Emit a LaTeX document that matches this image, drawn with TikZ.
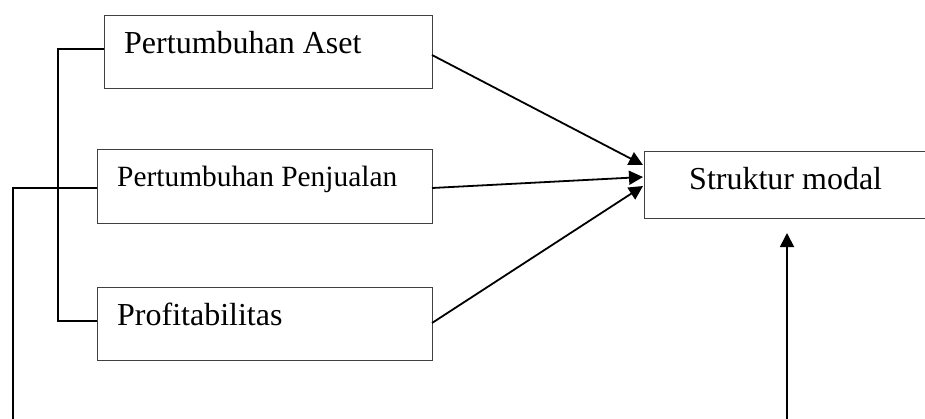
\documentclass[tikz,border=0pt]{standalone}
\usepackage{fontspec}
\setmainfont{Liberation Serif}
\usetikzlibrary{arrows.meta,calc}
\tikzset{
  box/.style={draw=black!75, line width=0.9pt, anchor=north west, inner sep=0pt},
  lbl/.style={anchor=base west, inner sep=0pt, font=\fontsize{32}{38}\selectfont},
  conn/.style={line width=1.8pt, black},
  arr/.style={conn, -{Triangle[length=14pt,width=14pt]}}
}
\begin{document}
\begin{tikzpicture}[x=1pt,y=-1pt]
\useasboundingbox (0,0) rectangle (925,418);
\clip (0,0) rectangle (925,418);
% boxes
\node[box, minimum width=328pt, minimum height=73pt] (A) at (104,15) {};
\node[box, minimum width=335pt, minimum height=74pt] (B) at (97,149) {};
\node[box, minimum width=335pt, minimum height=73pt] (C) at (97,287) {};
\node[box, minimum width=300pt, minimum height=67pt] (D) at (644,151) {};
% labels
\node[lbl] (tA) at (124,53) {Pertumbuhan Aset};
\node[lbl, font=\fontsize{29.4}{35}\selectfont] (tB) at (117,186) {Pertumbuhan Penjualan};
\node[lbl] (tC) at (117,325) {Profitabilitas};
\node[lbl] (tD) at (689,189) {Struktur modal};
% target / free-end coordinates
\coordinate (hA) at (643,165);
\coordinate (hB) at (643,177);
\coordinate (hC) at (643,186);
\coordinate (sA) at (432,55);
\coordinate (sB) at (432,188);
\coordinate (sC) at (432,323);
\coordinate (bot1) at (13,420);
\coordinate (bot2) at (787,420);
\coordinate (hD) at (787,233);
% arrows to Struktur modal
\draw[arr] (sA) -- (hA);
\draw[arr] (sB) -- (hB);
\draw[arr] (sC) -- (hC);
\draw[arr] (bot2) -- (hD);
% brackets
\draw[conn] (A.west |- 0,49) -- (58,49) |- (C.west |- 0,321);
\draw[conn] (B.west |- 0,188) -| (bot1);
\end{tikzpicture}
\end{document}
